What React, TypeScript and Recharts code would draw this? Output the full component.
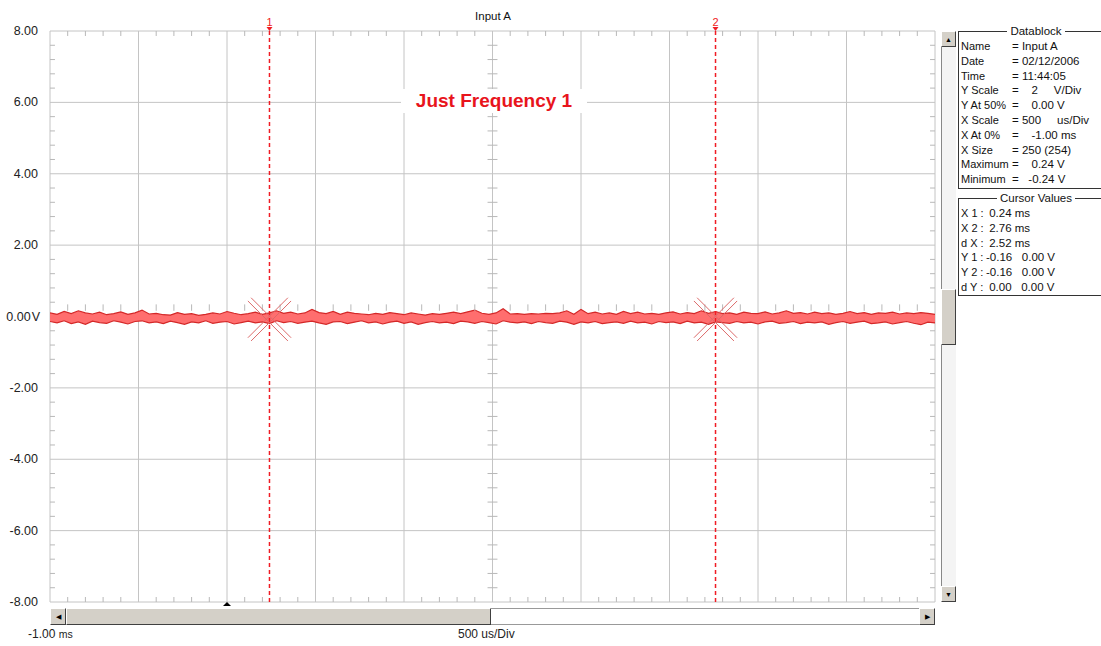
import React from "react";
import {
  ComposedChart,
  Area,
  XAxis,
  YAxis,
  CartesianGrid,
  ReferenceLine,
  ReferenceDot,
} from "recharts";

// Y axis ticks (volts) and X grid (ms)
const yTicks = [8, 6, 4, 2, 0, -2, -4, -6, -8];
const xGrid = [-1, -0.5, 0, 0.5, 1, 1.5, 2, 2.5, 3, 3.5, 4];

// cursors (ms)
const cursors = [
  { id: "1", t: 0.24, v: -0.08 },
  { id: "2", t: 2.76, v: -0.08 },
];

// envelope of the noisy trace, max / min per sample column (V)
const hiV = [
  0.10, 0.06, 0.14, 0.08, 0.16, 0.10, 0.07, 0.12, 0.05, 0.08, 0.13, 0.06, 0.10, 0.18, 0.07, 0.09,
  0.05, 0.04, 0.11, 0.06, 0.08, 0.03, 0.06, 0.10, 0.07, 0.14, 0.09, 0.05, 0.08, 0.12, 0.06, 0.10,
  0.16, 0.09, 0.12, 0.07, 0.10, 0.20, 0.11, 0.08, 0.14, 0.06, 0.12, 0.09, 0.07, 0.05, 0.09, 0.06,
  0.11, 0.08, 0.05, 0.10, 0.07, 0.04, 0.08, 0.06, 0.09, 0.12, 0.08, 0.13, 0.18, 0.09, 0.06, 0.10,
  0.22, 0.07, 0.08, 0.06, 0.08, 0.07, 0.09, 0.08, 0.10, 0.16, 0.06, 0.20, 0.08, 0.12, 0.07, 0.10,
  0.06, 0.14, 0.08, 0.12, 0.07, 0.09, 0.06, 0.10, 0.13, 0.07, 0.11, 0.08, 0.16, 0.09, 0.14, 0.08,
  0.10, 0.06, 0.12, 0.09, 0.08, 0.13, 0.07, 0.10, 0.16, 0.09, 0.11, 0.07, 0.12, 0.08, 0.10, 0.06,
  0.09, 0.14, 0.08, 0.11, 0.06, 0.10, 0.09, 0.12, 0.07, 0.10, 0.08, 0.11, 0.09, 0.06,
];
const loV = [
  -0.14, -0.18, -0.12, -0.20, -0.15, -0.22, -0.13, -0.17, -0.19, -0.12, -0.16, -0.21, -0.14, -0.12, -0.18, -0.15,
  -0.20, -0.13, -0.17, -0.22, -0.15, -0.18, -0.12, -0.19, -0.16, -0.14, -0.21, -0.17, -0.13, -0.18, -0.15, -0.20,
  -0.12, -0.17, -0.14, -0.19, -0.16, -0.13, -0.18, -0.22, -0.15, -0.14, -0.20, -0.16, -0.12, -0.18, -0.15, -0.21,
  -0.16, -0.13, -0.19, -0.15, -0.22, -0.17, -0.14, -0.18, -0.16, -0.20, -0.13, -0.15, -0.19, -0.14, -0.17, -0.21,
  -0.12, -0.16, -0.18, -0.15, -0.20, -0.14, -0.17, -0.19, -0.13, -0.16, -0.22, -0.15, -0.18, -0.14, -0.20, -0.17,
  -0.15, -0.19, -0.13, -0.18, -0.16, -0.21, -0.14, -0.17, -0.15, -0.20, -0.13, -0.18, -0.16, -0.22, -0.15, -0.17,
  -0.19, -0.14, -0.18, -0.16, -0.21, -0.15, -0.13, -0.19, -0.17, -0.14, -0.20, -0.16, -0.18, -0.15, -0.22, -0.17,
  -0.14, -0.19, -0.16, -0.13, -0.20, -0.18, -0.15, -0.21, -0.17, -0.14, -0.19, -0.23, -0.16, -0.18,
];

const datablock: [string, string][] = [
  ["Name", "= Input A"],
  ["Date", "= 02/12/2006"],
  ["Time", "= 11:44:05"],
  ["Y Scale", "=    2     V/Div"],
  ["Y At 50%", "=    0.00 V"],
  ["X Scale", "= 500     us/Div"],
  ["X At 0%", "=    -1.00 ms"],
  ["X Size", "= 250 (254)"],
  ["Maximum", "=    0.24 V"],
  ["Minimum", "=   -0.24 V"],
];
const cursorValues: [string, string][] = [
  ["X 1 :", " 0.24 ms"],
  ["X 2 :", " 2.76 ms"],
  ["d X :", " 2.52 ms"],
  ["Y 1 :", "-0.16   0.00 V"],
  ["Y 2 :", "-0.16   0.00 V"],
  ["d Y :", " 0.00   0.00 V"],
];

const n = Math.min(hiV.length, loV.length);
const data = hiV.slice(0, n).map((h, i) => ({
  t: -1 + i * 0.04,
  band: [loV[i], h],
}));

const GRID = "#c4c4c4";
const TICK = "#b8b8b8";
const CUR = "#f01c24";
const FONT = "'Liberation Sans', Arial, sans-serif";

// minor ticks: 5 subdivisions per division
const xMinor: number[] = [];
xGrid.slice(0, -1).forEach((g) => [0.1, 0.2, 0.3, 0.4].forEach((d) => xMinor.push(+(g + d).toFixed(3))));
const yMinor: number[] = [];
yTicks.slice(1).forEach((g) => [0.4, 0.8, 1.2, 1.6].forEach((d) => yMinor.push(+(g + d).toFixed(2))));

const dx = 0.028; // ~5px in ms
const dy = 0.14; // ~5px in V

function YTick(props: any) {
  const { y, payload } = props;
  const v = payload.value as number;
  if (v === 0) {
    return (
      <text x={40} y={y + 4} textAnchor="end" fontSize={12.5} fontFamily={FONT} fill="#222">
        0.00<tspan dx={1}>V</tspan>
      </text>
    );
  }
  return (
    <text x={38} y={y + 4} textAnchor="end" fontSize={12.5} fontFamily={FONT} fill="#222">
      {v.toFixed(2)}
    </text>
  );
}

function Cross(props: any) {
  const { cx, cy } = props;
  const r = 20;
  const o = 1.6;
  return (
    <g stroke="#dc6a6a" strokeWidth={1}>
      <line x1={cx - r - o} y1={cy - r + o} x2={cx + r - o} y2={cy + r + o} />
      <line x1={cx - r + o} y1={cy - r - o} x2={cx + r + o} y2={cy + r - o} />
      <line x1={cx - r - o} y1={cy + r - o} x2={cx + r - o} y2={cy - r - o} />
      <line x1={cx - r + o} y1={cy + r + o} x2={cx + r + o} y2={cy - r + o} />
    </g>
  );
}

function Marker(props: any) {
  const { cx, cy, label } = props;
  return (
    <g>
      <polygon points={`${cx - 3},${cy - 4} ${cx + 3},${cy - 4} ${cx},${cy}`} fill={CUR} />
      <text x={cx} y={cy - 5} textAnchor="middle" fontSize={11} fontFamily={FONT} fill={CUR}>
        {label}
      </text>
    </g>
  );
}

const btn: React.CSSProperties = {
  position: "absolute",
  background: "#d4d0c8",
  borderTop: "1px solid #fff",
  borderLeft: "1px solid #fff",
  borderRight: "1px solid #404040",
  borderBottom: "1px solid #404040",
  boxSizing: "border-box",
  fontSize: 7,
  color: "#000",
  display: "flex",
  alignItems: "center",
  justifyContent: "center",
};

function Panel({ top, height, title, rows, valX }: { top: number; height: number; title: string; rows: [string, string][]; valX: number }) {
  return (
    <div
      style={{
        position: "absolute",
        left: 958,
        top,
        width: 160,
        height,
        border: "1px solid #333",
        boxSizing: "border-box",
        fontFamily: FONT,
        color: "#111",
      }}
    >
      <div
        style={{
          position: "absolute",
          top: -8,
          left: 0,
          width: 154,
          textAlign: "center",
          lineHeight: "14px",
          fontSize: 11.5,
        }}
      >
        <span style={{ background: "#fff", padding: "0 3px" }}>{title}</span>
      </div>
      {rows.map(([k, v], i) => (
        <div key={k} style={{ position: "absolute", top: 7 + i * 14.8, left: 2, whiteSpace: "pre", lineHeight: "14px", fontSize: 11 }}>
          <span>{k}</span>
          <span style={{ position: "absolute", left: valX, whiteSpace: "pre", fontSize: 11.5 }}>{v}</span>
        </div>
      ))}
    </div>
  );
}

export default function App() {
  return (
    <div
      style={{
        position: "absolute",
        left: 0,
        top: 0,
        width: 1101,
        height: 646,
        overflow: "hidden",
        background: "#fff",
        fontFamily: FONT,
      }}
    >
      <ComposedChart
        width={1101}
        height={646}
        data={data}
        margin={{ top: 31, right: 166, bottom: 44, left: 0 }}
      >
        <CartesianGrid stroke={GRID} strokeWidth={1} />
        <XAxis type="number" dataKey="t" domain={[-1, 4]} ticks={xGrid} hide allowDataOverflow />
        <YAxis
          type="number"
          domain={[-8, 8]}
          ticks={yTicks}
          width={50}
          axisLine={false}
          tickLine={false}
          tick={(p: any) => <YTick {...p} />}
          allowDataOverflow
        />
        {xMinor.map((x) => (
          <ReferenceLine key={`tt${x}`} segment={[{ x, y: 8 }, { x, y: 8 - dy }]} stroke={TICK} />
        ))}
        {xMinor.map((x) => (
          <ReferenceLine key={`tb${x}`} segment={[{ x, y: -8 }, { x, y: -8 + dy }]} stroke={TICK} />
        ))}
        {xMinor.map((x) => (
          <ReferenceLine key={`tc${x}`} segment={[{ x, y: 0.16 }, { x, y: 0.34 }]} stroke={TICK} />
        ))}
        {yMinor.map((y) => (
          <ReferenceLine key={`tl${y}`} segment={[{ x: -1, y }, { x: -1 + dx, y }]} stroke={TICK} />
        ))}
        {yMinor.map((y) => (
          <ReferenceLine key={`tr${y}`} segment={[{ x: 4 - dx, y }, { x: 4, y }]} stroke={TICK} />
        ))}
        {yMinor.map((y) => (
          <ReferenceLine key={`tm${y}`} segment={[{ x: 1.5 - dx, y }, { x: 1.5 + dx, y }]} stroke={TICK} />
        ))}
        <Area
          type="linear"
          dataKey="band"
          stroke="#d42828"
          strokeWidth={1.2}
          fill="#ff6e6e"
          fillOpacity={1}
          dot={false}
          activeDot={false}
          isAnimationActive={false}
        />
        {cursors.map((c) => (
          <ReferenceLine
            key={`c${c.id}`}
            segment={[{ x: c.t, y: 8 }, { x: c.t, y: -8 }]}
            stroke={CUR}
            strokeOpacity={1}
            strokeWidth={1.5}
            strokeDasharray="4 3"
          />
        ))}
        {cursors.map((c) => (
          <ReferenceDot key={`m${c.id}`} x={c.t} y={8} shape={(p: any) => <Marker {...p} label={c.id} />} />
        ))}
        {cursors.map((c) => (
          <ReferenceDot key={`x${c.id}`} x={c.t} y={c.v} shape={(p: any) => <Cross {...p} />} />
        ))}
      </ComposedChart>

      {/* title */}
      <div style={{ position: "absolute", left: 393, width: 200, top: 10, textAlign: "center", fontSize: 11.5, color: "#111" }}>
        Input A
      </div>
      <div
        style={{
          position: "absolute",
          left: 401,
          top: 89,
          width: 186,
          height: 24,
          background: "#fff",
          color: "#e8141c",
          fontWeight: "bold",
          fontSize: 19,
          lineHeight: "24px",
          textAlign: "center",
        }}
      >
        Just Frequency 1
      </div>

      {/* vertical scrollbar */}
      <div style={{ position: "absolute", left: 941, top: 31, width: 15, height: 571, background: "#f4f4f4", borderLeft: "1px solid #888", boxSizing: "border-box" }} />
      <div style={{ ...btn, left: 941, top: 31, width: 15, height: 16 }}>▲</div>
      <div style={{ ...btn, left: 941, top: 289, width: 15, height: 56 }} />
      <div style={{ ...btn, left: 941, top: 586, width: 15, height: 16 }}>▼</div>

      {/* horizontal scrollbar */}
      <div style={{ position: "absolute", left: 50, top: 608, width: 885, height: 17, background: "#fff", border: "1px solid #999", boxSizing: "border-box" }} />
      <div style={{ ...btn, left: 66, top: 608, width: 425, height: 17 }} />
      <div style={{ ...btn, left: 50, top: 608, width: 16, height: 17 }}>◀</div>
      <div style={{ ...btn, left: 919, top: 608, width: 16, height: 17 }}>▶</div>
      <div style={{ position: "absolute", left: 223, top: 602, width: 0, height: 0, borderLeft: "4px solid transparent", borderRight: "4px solid transparent", borderBottom: "4px solid #000" }} />

      {/* bottom labels */}
      <div style={{ position: "absolute", left: 28, top: 627, fontSize: 12, color: "#222" }}>
        -1.00 <span style={{ fontSize: 10.5 }}>ms</span>
      </div>
      <div style={{ position: "absolute", left: 458, top: 627, fontSize: 12, color: "#222" }}>500 us/Div</div>

      <Panel top={31} height={158} title="Datablock" rows={datablock} valX={51} />
      <Panel top={198} height={98} title="Cursor Values" rows={cursorValues} valX={25} />
    </div>
  );
}
